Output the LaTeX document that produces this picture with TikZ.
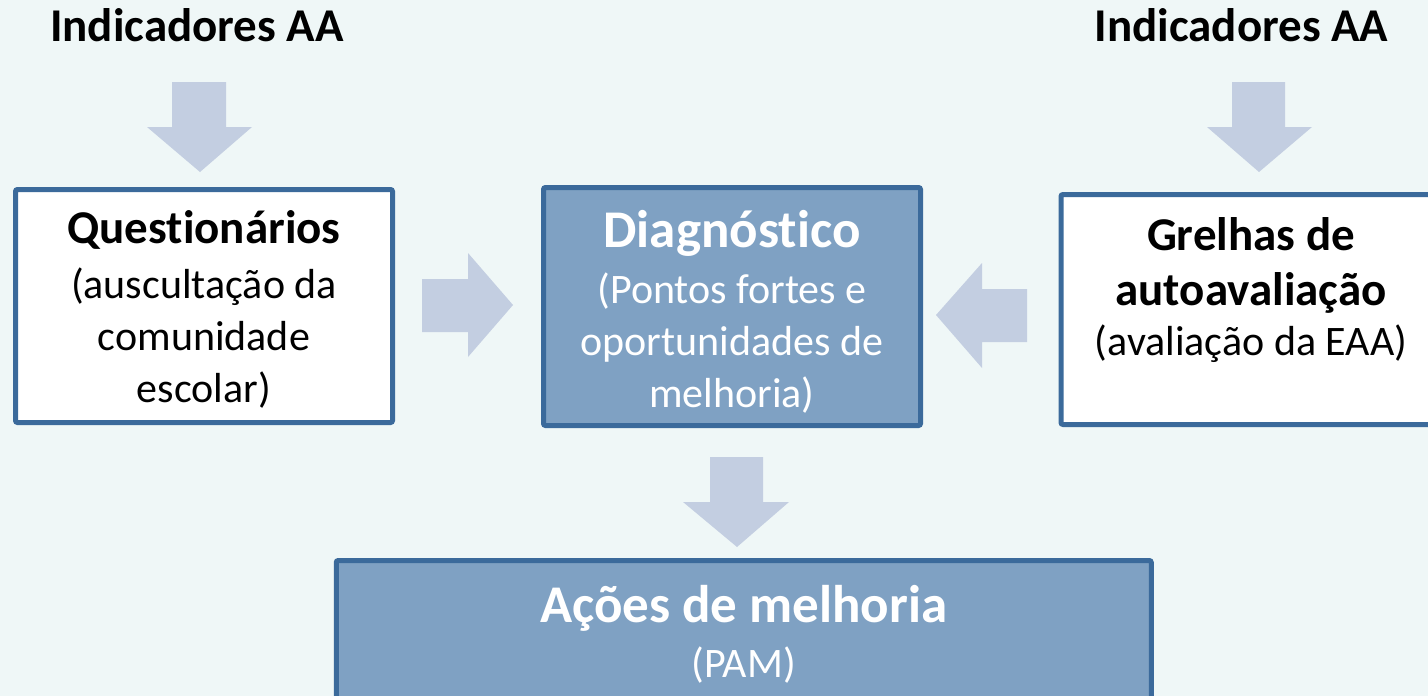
\documentclass[tikz,border=0pt]{standalone}
\usepackage{fontspec}
\setmainfont{Carlito}[Ligatures=NoCommon]
\definecolor{bg}{HTML}{EFF7F7}
\definecolor{edgeblue}{HTML}{3B6A9B}
\definecolor{midfill}{HTML}{7FA1C3}
\definecolor{arrowfill}{HTML}{C3CEE1}
\begin{document}
\begin{tikzpicture}[x=1pt,y=-1pt,
  boxbase/.style={draw=edgeblue,line width=5pt,rounded corners=2pt,inner sep=0pt,outer sep=0pt},
  whitebox/.style={boxbase,fill=white},
  bluebox/.style={boxbase,fill=midfill},
  blockarrow/.style={fill=arrowfill},
  titletext/.style={font=\fontsize{47}{56}\selectfont\bfseries,anchor=base,inner sep=0pt},
  bodytext/.style={font=\fontsize{42}{52}\selectfont,align=center,inner sep=0pt},
]
\useasboundingbox (0,0) rectangle (1428,696);
\fill[bg] (0,0) rectangle (1428,696);
\clip (0,0) rectangle (1428,696);

% titles
\node[titletext] (titleL) at (197,41) {Indicadores AA};
\node[titletext] (titleR) at (1241.5,41) {Indicadores AA};

% boxes
\node[whitebox,minimum width=377pt,minimum height=233pt] (quest) at (204,306) {};
\node[bluebox,minimum width=377pt,minimum height=238pt] (diag) at (732,306.5) {};
\node[whitebox,minimum width=380pt,minimum height=230pt] (grel) at (1251,309.5) {};
\node[bluebox,minimum width=815pt,minimum height=180pt] (acoes) at (743.75,650.5) {};

% texts
\node[bodytext] (questtxt) at (204,309) {{\fontsize{47}{52}\selectfont\bfseries Quest\kern0pt ionários}\\[3pt](auscultação da\\comunidade\\escolar)};
\node[bodytext,text=white] (diagtxt) at (732,312) {{\fontsize{53}{52}\selectfont\bfseries Diagnóst\kern0pt ico}\\[4pt](Pontos fortes e\\oportunidades de\\melhoria)};
\node[bodytext] (greltxt) at (1251,290) {{\fontsize{47}{52}\selectfont\bfseries Grelhas de}\\[3pt]{\fontsize{47}{52}\selectfont\bfseries autoavaliação}\\[-2pt](avaliação da EAA)};
\node[bodytext,text=white] (acoestxt) at (743.75,634) {{\fontsize{53}{52}\selectfont\bfseries Ações de melhoria}\\[3pt](PAM)};

% block arrows
\fill[blockarrow] (172,82) -- (226,82) -- (226,127) -- (252,127) -- (200,172) -- (147,127) -- (172,127) -- cycle;
\fill[blockarrow] (1232,82) -- (1285,82) -- (1285,127) -- (1312,127) -- (1259,172) -- (1207,127) -- (1232,127) -- cycle;
\fill[blockarrow] (422,279) -- (468,279) -- (468,253) -- (513,305) -- (468,357) -- (468,332) -- (422,332) -- cycle;
\fill[blockarrow] (1027,289) -- (982,289) -- (982,263) -- (936,315) -- (982,368) -- (982,342) -- (1027,342) -- cycle;
\fill[blockarrow] (710,457) -- (763,457) -- (763,502) -- (789,502) -- (737,547) -- (683,502) -- (710,502) -- cycle;
\end{tikzpicture}
\end{document}
